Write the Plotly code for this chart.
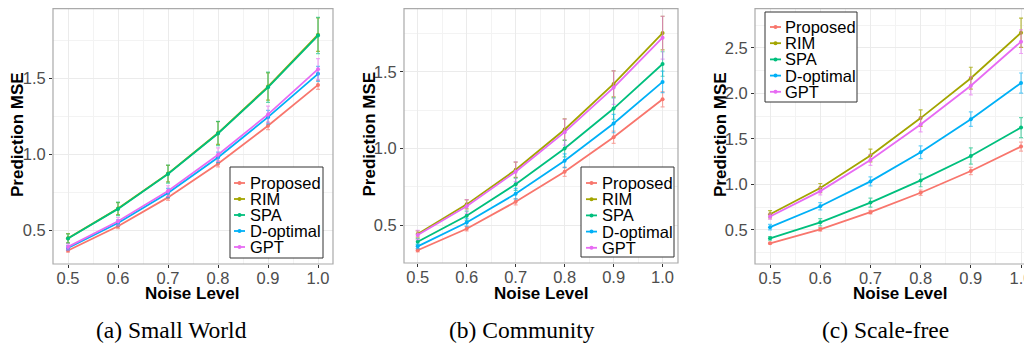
import plotly.graph_objects as go

noise = [0.5, 0.6, 0.7, 0.8, 0.9, 1.0]
methods = ["Proposed", "RIM", "SPA", "D-optimal", "GPT"]
colors = ["#F8766D", "#A3A500", "#00BF7D", "#00B0F6", "#E76BF3"]
err_colors = ["rgba(248,118,109,0.6)", "rgba(163,165,0,0.75)", "rgba(0,191,125,0.6)",
              "rgba(0,176,246,0.6)", "rgba(231,107,243,0.6)"]

# (a) Small World
sw_mean = {
    "Proposed": [0.365, 0.525, 0.716, 0.938, 1.189, 1.459],
    "RIM": [0.446, 0.642, 0.873, 1.141, 1.448, 1.791],
    "SPA": [0.444, 0.640, 0.870, 1.138, 1.443, 1.785],
    "D-optimal": [0.382, 0.547, 0.745, 0.980, 1.246, 1.532],
    "GPT": [0.389, 0.558, 0.758, 0.998, 1.264, 1.563],
}
sw_err = {
    "Proposed": [0.01, 0.015, 0.02, 0.02, 0.025, 0.03],
    "RIM": [0.03, 0.04, 0.055, 0.075, 0.09, 0.11],
    "SPA": [0.03, 0.045, 0.06, 0.08, 0.10, 0.12],
    "D-optimal": [0.015, 0.02, 0.03, 0.035, 0.045, 0.05],
    "GPT": [0.02, 0.025, 0.035, 0.045, 0.055, 0.07],
}

# (b) Community
cm_mean = {
    "Proposed": [0.335, 0.476, 0.652, 0.848, 1.074, 1.322],
    "RIM": [0.441, 0.635, 0.861, 1.124, 1.422, 1.754],
    "SPA": [0.391, 0.561, 0.767, 1.000, 1.261, 1.552],
    "D-optimal": [0.361, 0.517, 0.704, 0.920, 1.163, 1.435],
    "GPT": [0.435, 0.622, 0.848, 1.107, 1.398, 1.724],
}
cm_err = {
    "Proposed": [0.01, 0.015, 0.02, 0.03, 0.04, 0.05],
    "RIM": [0.02, 0.03, 0.05, 0.07, 0.085, 0.11],
    "SPA": [0.02, 0.03, 0.04, 0.055, 0.07, 0.08],
    "D-optimal": [0.015, 0.025, 0.035, 0.045, 0.06, 0.07],
    "GPT": [0.03, 0.045, 0.065, 0.085, 0.11, 0.14],
}

# (c) Scale-free
sf_mean = {
    "Proposed": [0.353, 0.507, 0.695, 0.908, 1.147, 1.415],
    "RIM": [0.672, 0.960, 1.317, 1.728, 2.166, 2.665],
    "SPA": [0.408, 0.584, 0.800, 1.044, 1.312, 1.624],
    "D-optimal": [0.530, 0.760, 1.033, 1.352, 1.716, 2.113],
    "GPT": [0.647, 0.926, 1.268, 1.657, 2.083, 2.567],
}
sf_err = {
    "Proposed": [0.01, 0.02, 0.02, 0.03, 0.04, 0.05],
    "RIM": [0.04, 0.05, 0.07, 0.09, 0.12, 0.16],
    "SPA": [0.02, 0.04, 0.05, 0.07, 0.09, 0.11],
    "D-optimal": [0.03, 0.04, 0.05, 0.07, 0.08, 0.11],
    "GPT": [0.03, 0.04, 0.06, 0.08, 0.10, 0.13],
}

captions = ["(a) Small World", "(b) Community", "(c) Scale-free"]
panels = [(sw_mean, sw_err), (cm_mean, cm_err), (sf_mean, sf_err)]

W, H = 1032, 345
OFF = 8  # page body margin


def fx(px):
    return (px - OFF) / W


def fy(py):
    return 1 - (py - OFF) / H


# page-pixel geometry of each panel: left, right, top, bottom, x-range, y-range
geom = [
    (53, 333, 8.6, 264, [0.47, 1.03], [0.276, 1.963]),
    (404, 678, 8.6, 263, [0.472, 1.0315], [0.252, 1.914]),
    (755, 1040, 8.6, 264, [0.47, 1.0378], [0.126, 2.930]),
]
ytitle_x = [18, 369, 721]
xtitle_x = [192.5, 541, 900]
caption_x = [171, 522, 885]
# legend boxes: left, top, right, bottom, key-left, text-left, first-row y, row step
legend_geom = [
    (230, 167, 323, 258, 234, 248, 183, 16),
    (581, 167, 674, 257, 586, 600, 183, 16.2),
    (765, 12, 857, 102, 770, 783, 27, 16.2),
]

FONT = "Liberation Sans, Arial, Helvetica, sans-serif"
fig = go.Figure()

for p, (means, errs) in enumerate(panels):
    ax = "" if p == 0 else str(p + 1)
    for i, m in enumerate(methods):
        fig.add_trace(go.Scatter(
            x=noise, y=means[m], name=m, mode="lines+markers",
            line=dict(color=colors[i], width=1.8),
            marker=dict(color=colors[i], size=4),
            error_y=dict(type="data", array=errs[m], color=err_colors[i],
                         thickness=1.2, width=2),
            xaxis="x" + ax, yaxis="y" + ax, showlegend=False,
        ))

layout = dict(
    width=W, height=H, margin=dict(l=0, r=0, t=0, b=0),
    paper_bgcolor="white", plot_bgcolor="white",
    font=dict(family=FONT, color="#000000"),
    showlegend=False,
)
annotations = []
shapes = []
for p, (l, r, t, b, xr, yr) in enumerate(geom):
    ax = "" if p == 0 else str(p + 1)
    xd = [fx(l), min(1.0, fx(r))]
    yd = [fy(b), min(1.0, fy(t))]
    layout["xaxis" + ax] = dict(
        domain=xd, range=xr, anchor="y" + ax,
        tickvals=noise, ticktext=[f"{v:.1f}" for v in noise],
        tickfont=dict(size=16.5, color="#4D4D4D", family=FONT),
        ticks="outside", ticklen=3, tickcolor="#333333", ticklabelstandoff=-4,
        showgrid=True, gridcolor="#EBEBEB", gridwidth=1,
        minor=dict(showgrid=True, gridcolor="#F3F3F3", gridwidth=0.8, dtick=0.05, tick0=0.45),
        zeroline=False, showline=False,
    )
    layout["yaxis" + ax] = dict(
        domain=yd, range=yr, anchor="x" + ax,
        dtick=0.5, tick0=0, tickformat=".1f",
        tickfont=dict(size=16.5, color="#4D4D4D", family=FONT),
        ticks="outside", ticklen=3, tickcolor="#333333",
        showgrid=True, gridcolor="#EBEBEB", gridwidth=1,
        minor=dict(showgrid=True, gridcolor="#F3F3F3", gridwidth=0.8, dtick=0.25, tick0=0),
        zeroline=False, showline=False,
    )
    shapes.append(dict(type="rect", xref="paper", yref="paper",
                       x0=xd[0], x1=fx(r), y0=yd[0], y1=yd[1],
                       line=dict(color="#AAAAAA", width=1.2), layer="above"))
    annotations.append(dict(text="<b>Noise Level</b>", xref="paper", yref="paper",
                            x=fx(xtitle_x[p]), y=fy(293), xanchor="center", yanchor="middle",
                            showarrow=False, font=dict(size=17, family=FONT, color="black")))
    annotations.append(dict(text="<b>Prediction MSE</b>", xref="paper", yref="paper",
                            x=fx(ytitle_x[p]), y=fy((6 + b) / 2), textangle=-90,
                            xanchor="center", yanchor="middle",
                            showarrow=False, font=dict(size=17, family=FONT, color="black")))
    annotations.append(dict(text=captions[p], xref="paper", yref="paper",
                            x=fx(caption_x[p]), y=fy(330), xanchor="center", yanchor="middle",
                            showarrow=False,
                            font=dict(size=23.5, family="Liberation Serif, Times New Roman, serif",
                                      color="black")))
    # legend
    bl, bt, br, bb, kl, tl, r0, step = legend_geom[p]
    shapes.append(dict(type="rect", xref="paper", yref="paper",
                       x0=fx(bl), x1=fx(br), y0=fy(bb), y1=fy(bt),
                       fillcolor="white", line=dict(color="#333333", width=1), layer="above"))
    for i, m in enumerate(methods):
        ry = r0 + i * step
        shapes.append(dict(type="line", xref="paper", yref="paper",
                           x0=fx(kl), x1=fx(kl + 11), y0=fy(ry), y1=fy(ry),
                           line=dict(color=colors[i], width=1.8), layer="above"))
        shapes.append(dict(type="circle", xref="paper", yref="paper",
                           x0=fx(kl + 3.5), x1=fx(kl + 7.5), y0=fy(ry + 2), y1=fy(ry - 2),
                           fillcolor=colors[i], line=dict(width=0), layer="above"))
        annotations.append(dict(text=m, xref="paper", yref="paper",
                                x=fx(tl), y=fy(ry), xanchor="left", yanchor="middle",
                                showarrow=False,
                                font=dict(size=16.5, family=FONT, color="black")))

layout["annotations"] = annotations
layout["shapes"] = shapes
fig.update_layout(**layout)
fig.write_html("out.html")
